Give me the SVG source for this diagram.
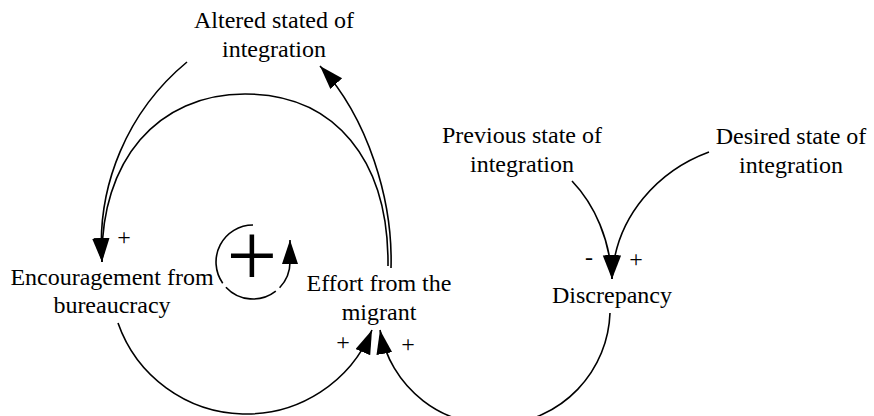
<svg xmlns="http://www.w3.org/2000/svg" width="874" height="416" viewBox="0 0 874 416">
<style>
text{font-family:"Liberation Serif","Times New Roman",serif;font-size:24px;fill:#000;text-anchor:middle}
.c{fill:none;stroke:#000;stroke-width:1.6}
</style>
<defs>
<marker id="ah" markerUnits="userSpaceOnUse" markerWidth="26" markerHeight="18" refX="24" refY="8" orient="auto">
<path d="M0,0 L24,8 L0,16 Z" fill="#000"/>
</marker>
</defs>
<rect width="874" height="416" fill="#fff"/>
<g id="connectors">
<path class="c" d="M187,62 A236,236 0 0 0 102,262" marker-end="url(#ah)"/>
<path class="c" d="M388,266 C389,160 335,94 245,94 C158,94 100,160 102,262" marker-end="url(#ah)"/>
<path class="c" d="M391,268 C393,200 368,118 320,66" marker-end="url(#ah)"/>
<path class="c" d="M118,323 A136,136 0 0 0 372,330" marker-end="url(#ah)"/>
<path class="c" d="M610,313 A116,116 0 0 1 380,330" marker-end="url(#ah)"/>
<path class="c" d="M572,181 C595,205 610,240 612,279" marker-end="url(#ah)"/>
<path class="c" d="M709,152 C660,170 615,215 612,279" marker-end="url(#ah)"/>
</g>
<g id="polarities">
<text x="124" y="245">+</text>
<text x="343" y="350">+</text>
<text x="408" y="352">+</text>
<text x="589" y="265">-</text>
<text x="636" y="267">+</text>
</g>
<g id="loop">
<path class="c" d="M253,225 A37,37 0 0 0 222.7,283.2 M225.9,287.2 A37,37 0 0 0 275.8,291.2 M279.6,287.7 A37,37 0 0 0 290,262 L290,240" marker-end="url(#ah)"/>
<text x="252" y="286" style="font-size:90px">+</text>
</g>
<g id="altered">
<text x="274" y="28">Altered stated of</text>
<text x="274" y="57">integration</text>
</g>
<g id="encouragement">
<text x="112" y="285">Encouragement from</text>
<text x="112" y="313">bureaucracy</text>
</g>
<g id="effort">
<text x="379" y="291">Effort from the</text>
<text x="379" y="320">migrant</text>
</g>
<g id="previous">
<text x="522" y="143">Previous state of</text>
<text x="522" y="172">integration</text>
</g>
<g id="desired">
<text x="791" y="144">Desired state of</text>
<text x="791" y="173">integration</text>
</g>
<g id="discrepancy">
<text x="612" y="303">Discrepancy</text>
</g>
</svg>
